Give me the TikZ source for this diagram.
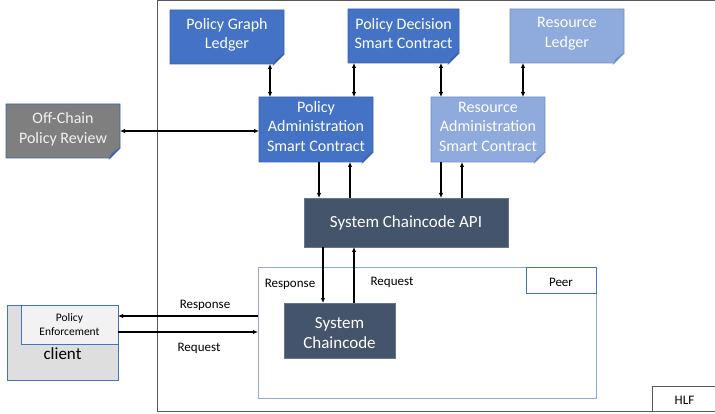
\documentclass[tikz,border=0pt]{standalone}
\usepackage{fontspec}
\setmainfont{Carlito}
\usetikzlibrary{arrows.meta,backgrounds}

\definecolor{darkblue}{HTML}{4472C4}
\definecolor{darkblueline}{HTML}{3A62AC}
\definecolor{lightblue}{HTML}{8FAADC}
\definecolor{lightblueline}{HTML}{6F8FCC}
\definecolor{slate}{HTML}{44546A}
\definecolor{offgray}{HTML}{7F7F7F}
\definecolor{clientgray}{HTML}{DEDEDE}
\definecolor{pegray}{HTML}{F2F2F2}
\definecolor{hlfline}{HTML}{595959}
\definecolor{peerline}{HTML}{8EA9DB}

% folded-corner document shape drawn behind a named node
\newcommand\foldbox[3]{%
  \begin{scope}[on background layer]
    \filldraw[fill=#2,draw=#3,line width=0.8pt]
      (#1.north west) -- (#1.north east) -- ([yshift=10pt]#1.south east)
      -- ([xshift=-10pt]#1.south east) -- (#1.south west) -- cycle;
    \filldraw[fill=#2!75!black,draw=#3,line width=0.8pt]
      ([yshift=10pt]#1.south east) -- ([xshift=-10pt]#1.south east)
      -- ([xshift=-8pt,yshift=4pt]#1.south east) -- cycle;
  \end{scope}}

\tikzset{
  area/.style={inner sep=0pt,outer sep=0pt},
  boxlabel/.style={align=center,text=white,font=\fontsize{16}{19.5}\selectfont,inner sep=0pt},
  apibox/.style={area,fill=slate,draw=slate!80!white,line width=0.8pt,text=white,
    align=center,font=\fontsize{17}{20}\selectfont},
  plain/.style={font=\fontsize{13}{15}\selectfont,inner sep=0pt},
  link/.style={line width=1.2pt,-{Latex[length=5pt,width=4.5pt]}},
  dlink/.style={line width=1.2pt,{Latex[length=5pt,width=4.5pt]}-{Latex[length=5pt,width=4.5pt]}},
}

\begin{document}
\begin{tikzpicture}[x=1pt,y=-1pt]
\useasboundingbox (0,0) rectangle (715,414);

% HLF frame
\draw[hlfline,line width=1pt] (157,1) rectangle (718,411);
\node[area,draw=hlfline,line width=1pt,minimum width=66pt,minimum height=25pt] (hlf) at (685,398.5) {};
\node[plain] (hlf-t) at (684.5,400.5) {HLF};

% ledgers and contracts
\node[area,minimum width=114pt,minimum height=54pt] (PGL) at (227,37) {};
\foldbox{PGL}{darkblue}{darkblueline}
\node[boxlabel] (PGL-t) at ([yshift=2pt]PGL.center) {Policy Graph\\Ledger};

\node[area,minimum width=111pt,minimum height=54pt] (PDSC) at (403.5,36) {};
\foldbox{PDSC}{darkblue}{darkblueline}
\node[boxlabel] (PDSC-t) at ([yshift=2.5pt]PDSC.center) {Policy Decision\\Smart Contract};

\node[area,minimum width=114pt,minimum height=54pt] (RL) at (567,36) {};
\foldbox{RL}{lightblue}{lightblueline}
\node[boxlabel] (RL-t) at ([yshift=2.5pt]RL.center) {Resource\\Ledger};

\node[area,minimum width=114pt,minimum height=65pt] (PASC) at (316,129.5) {};
\foldbox{PASC}{darkblue}{darkblueline}
\node[boxlabel] (PASC-t) at ([yshift=3pt]PASC.center) {Policy\\Administration\\Smart Contract};

\node[area,minimum width=114pt,minimum height=65pt] (RASC) at (488,129.5) {};
\foldbox{RASC}{lightblue}{lightblueline}
\node[boxlabel] (RASC-t) at ([yshift=3pt]RASC.center) {Resource\\Administration\\Smart Contract};

\node[area,minimum width=114pt,minimum height=54pt] (OCPR) at (63,131) {};
\foldbox{OCPR}{offgray}{darkblueline}
\node[boxlabel,text=pegray] (OCPR-t) at ([yshift=2pt]OCPR.center) {Off-Chain\\Policy Review};

% chaincode API
\node[apibox,minimum width=204pt,minimum height=49pt] (API) at (406,222.5) {System Chaincode API};

% peer
\node[area,draw=peerline,line width=1pt,minimum width=338pt,minimum height=130pt] (peer) at (427,333) {};
\node[area,draw=darkblue,line width=1pt,minimum width=70pt,minimum height=25pt] (peer-box) at (561,280.5) {};
\node[plain] (peer-t) at (561,282) {Peer};
\node[apibox,minimum width=111pt,minimum height=55pt] (SC) at (339.5,330.5) {};
\node[boxlabel,font=\fontsize{17}{20}\selectfont] (SC-t) at ([yshift=-2.5pt]SC.center) {System\\Chaincode};

% client
\node[area,fill=clientgray,draw=darkblue,line width=0.8pt,minimum width=111pt,minimum height=75pt] (client) at (62.5,342.5) {};
\node[area,fill=pegray,draw=darkblue,line width=0.8pt,minimum width=97pt,minimum height=39pt,
  align=center,font=\fontsize{11.5}{14.5}\selectfont] (PE) at (69.5,324.5) {Policy\\Enforcement};
\node[inner sep=0pt,font=\fontsize{17}{20}\selectfont] (client-t) at (62.5,354) {client};

% links between ledgers and contracts
\draw[dlink] (270,0 |- PGL.south) -- (270,0 |- PASC.north);
\draw[dlink] (354,0 |- PDSC.south) -- (354,0 |- PASC.north);
\draw[dlink] (441,0 |- PDSC.south) -- (441,0 |- RASC.north);
\draw[dlink] (523,0 |- RL.south) -- (523,0 |- RASC.north);
\draw[dlink] (OCPR.east) -- (OCPR.east -| PASC.west);

% contracts to API
\draw[link] (319,0 |- PASC.south) -- (319,0 |- API.north);
\draw[link] (350,0 |- API.north) -- (350,0 |- PASC.south);
\draw[link] (441,0 |- RASC.south) -- (441,0 |- API.north);
\draw[link] (462,0 |- API.north) -- (462,0 |- RASC.south);

% API to system chaincode
\draw[link] (323,0 |- API.south) -- (323,0 |- SC.north);
\draw[link] (354,0 |- SC.north) -- (354,0 |- API.south);

% client and peer
\draw[link] (0,316 -| peer.west) -- (0,316 -| PE.east);
\draw[link] (0,332 -| PE.east) -- (0,332 -| peer.west);

% labels
\node[plain] (resp-out) at (205,305) {Response};
\node[plain] (req-out) at (199,348) {Request};
\node[plain] (resp-in) at (290,284.5) {Response};
\node[plain] (req-in) at (392,282.5) {Request};
\end{tikzpicture}
\end{document}
